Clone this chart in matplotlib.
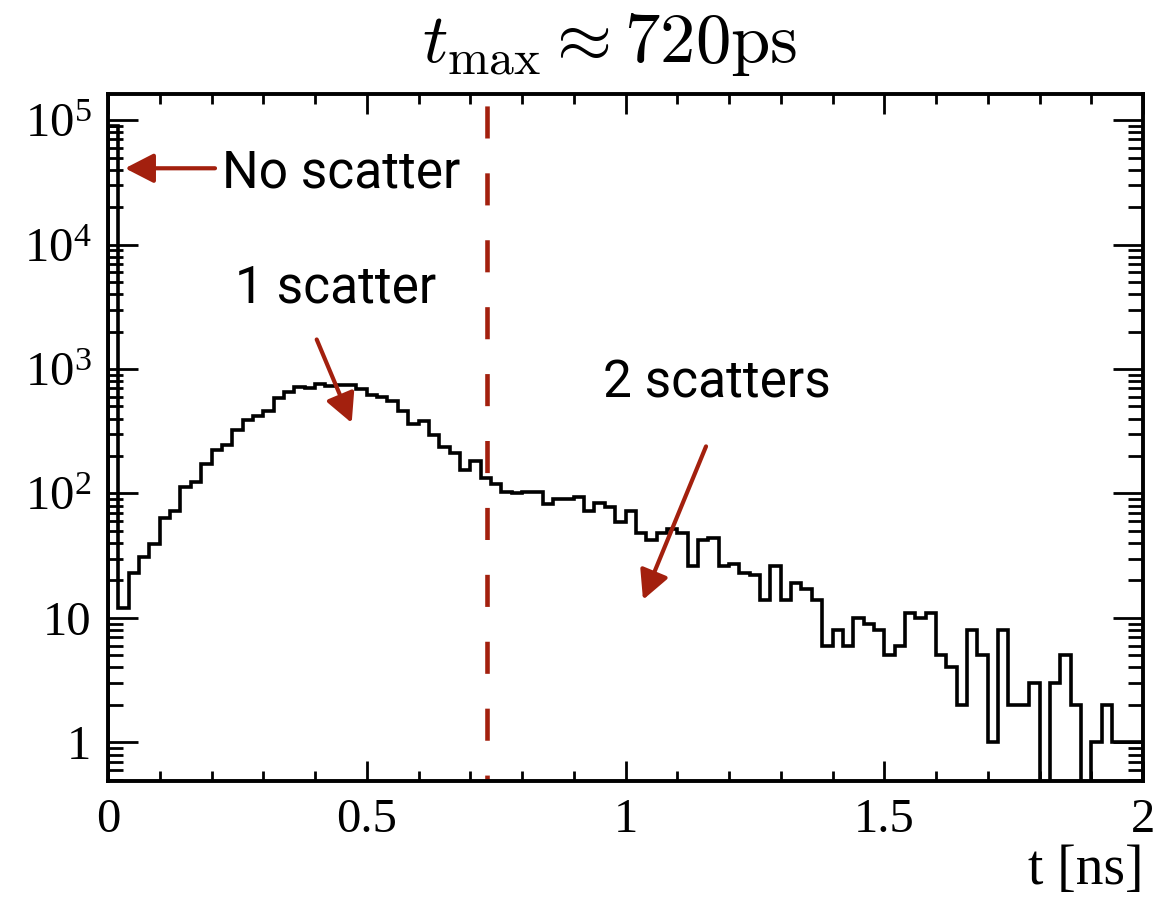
import numpy as np
import matplotlib
matplotlib.use("Agg")
import matplotlib.pyplot as plt
from matplotlib.ticker import FixedLocator, FixedFormatter, LogLocator, MultipleLocator, NullFormatter
from matplotlib.patches import ArrowStyle

plt.rcParams["font.family"] = ["Liberation Serif", "DejaVu Serif"]
plt.rcParams["mathtext.fontset"] = "stix"

# Arrival-time histogram: 100 bins of 0.02 ns between 0 and 2 ns
bin_edges = np.linspace(0.0, 2.0, 101)
counts = [
    90000, 12, 23, 31, 39, 64, 72, 113, 124, 174,
    225, 244, 322, 388, 417, 460, 590, 655, 712, 705,
    764, 728, 741, 750, 697, 615, 600, 552, 462, 365,
    384, 296, 237, 212, 154, 181, 132, 119, 103, 100,
    103, 103, 82, 90, 90, 94, 73, 84, 78, 59,
    72, 48, 42, 48, 52, 48, 26, 42, 44, 26,
    27, 23, 22, 14, 26, 14, 19, 17, 14, 6,
    8, 6, 10, 9, 8, 5, 6, 11, 10, 11,
    5, 4, 2, 8, 5, 1, 8, 2, 2, 3,
    0, 3, 5, 2, 0, 1, 2, 1, 1, 1,
]
t_cut = 0.733  # ns, dashed marker

x_ticks = [0, 0.5, 1, 1.5, 2]
x_ticklabels = ["0", "0.5", "1", "1.5", "2"]
y_ticks = [1, 10, 1e2, 1e3, 1e4, 1e5]
y_ticklabels = ["1", "10", r"$\mathdefault{10^{2}}$", r"$\mathdefault{10^{3}}$",
                r"$\mathdefault{10^{4}}$", r"$\mathdefault{10^{5}}$"]

RED = "#a3200e"

fig = plt.figure(figsize=(11.76, 9), dpi=100)
ax = fig.add_axes([108 / 1176, 1 - 781 / 900, 1035 / 1176, 687 / 900])

# empty bins are dropped below the visible range of the log axis
floor = 1e-3
drawn = np.where(np.asarray(counts) > 0, counts, floor)
ax.stairs(drawn, bin_edges, baseline=floor, color="black", lw=2.6, zorder=3)

ax.set_yscale("log")
ax.set_xlim(0, 2)
ax.set_ylim(0.49, 1.62e5)

# dashed vertical marker
ax.plot([t_cut, t_cut], [1, 0], transform=ax.get_xaxis_transform(),
        color=RED, lw=3.3, linestyle=(12.0, (7.0, 7.6)), zorder=2,
        solid_capstyle="butt", dash_capstyle="butt")

# axes frame and ticks
for s in ax.spines.values():
    s.set_linewidth(2.8)
ax.xaxis.set_major_locator(FixedLocator(x_ticks))
ax.xaxis.set_major_formatter(FixedFormatter(x_ticklabels))
ax.xaxis.set_minor_locator(MultipleLocator(0.1))
ax.yaxis.set_major_locator(FixedLocator(y_ticks))
ax.yaxis.set_major_formatter(FixedFormatter(y_ticklabels))
ax.yaxis.set_minor_locator(LogLocator(base=10, subs=np.arange(2, 10), numticks=30))
ax.yaxis.set_minor_formatter(NullFormatter())

ax.tick_params(which="both", direction="in", top=True, right=True, width=2.0)
ax.tick_params(axis="x", which="major", length=14.5, pad=12, labelsize=35)
ax.tick_params(axis="x", which="minor", length=7.2)
ax.tick_params(axis="y", which="major", length=21.6, pad=12, labelsize=35)
ax.tick_params(axis="y", which="minor", length=10.8)

ax.set_xlabel("t [ns]", loc="right", fontsize=40, labelpad=2)

fig.text(610 / 1176, 1 - 44 / 900, r"$t_{\mathrm{max}} \approx 720\mathrm{ps}$",
         ha="center", va="center", fontsize=51, math_fontfamily="cm")

# annotations
sans = dict(family=["Roboto", "DejaVu Sans"], fontweight="normal", fontsize=37, color="black")
head = ArrowStyle("-|>", head_length=17.5, head_width=9.0)
aprops = dict(arrowstyle=head, mutation_scale=1, color=RED, lw=3.0, shrinkA=0, shrinkB=0)

ax.text(0.2203, 2.89e4, "No scatter", ha="left", va="baseline", **sans)
ax.annotate("", xy=(0.0329, 4.1e4), xytext=(0.2068, 4.1e4), arrowprops=aprops)

ax.text(0.2454, 3444, "1 scatter", ha="left", va="baseline", **sans)
ax.annotate("", xy=(0.4709, 369), xytext=(0.4033, 1727), arrowprops=aprops)

ax.text(0.9565, 593, "2 scatters", ha="left", va="baseline", **sans)
ax.annotate("", xy=(1.0338, 14.0), xytext=(1.1556, 239), arrowprops=aprops)

fig.savefig("out.png", dpi=100)
